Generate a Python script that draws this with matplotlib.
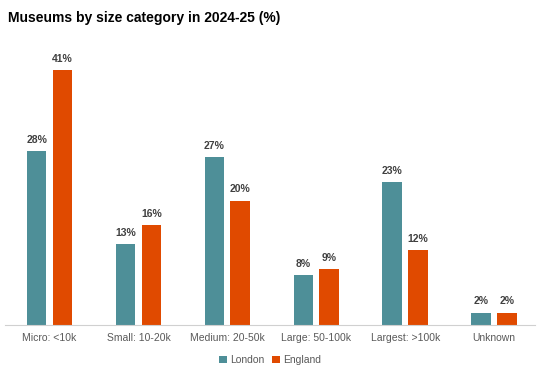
import matplotlib.pyplot as plt
import numpy as np

categories = ['Micro: <10k', 'Small: 10-20k', 'Medium: 20-50k', 'Large: 50-100k', 'Largest: >100k', 'Unknown']
london = [28, 13, 27, 8, 23, 2]
england = [41, 16, 20, 9, 12, 2]

teal = '#4E8F98'
orange = '#E04A00'

plt.rcParams['font.family'] = ['Liberation Sans', 'DejaVu Sans']

fig = plt.figure(figsize=(5.4, 3.79), dpi=100)
ax = fig.add_axes([5 / 540, 54 / 379, 530 / 540, 280 / 379])

x = np.arange(len(categories))
w = 0.22
b1 = ax.bar(x - 0.145, london, w, color=teal, label='London')
b2 = ax.bar(x + 0.145, england, w, color=orange, label='England')

for bars in (b1, b2):
    for b in bars:
        ax.text(b.get_x() + b.get_width() / 2, b.get_height() + 1.0, f'{int(b.get_height())}%',
                ha='center', va='bottom', fontsize=7.5, fontweight='bold', color='#404040')

ax.set_xlim(-0.5, 5.46)
ax.set_ylim(0, 45)
ax.set_yticks([])
ax.set_xticks(x)
ax.set_xticklabels(categories, fontsize=7.5, color='#595959')
ax.tick_params(axis='x', length=0, pad=6)
for s in ['top', 'right', 'left']:
    ax.spines[s].set_visible(False)
ax.spines['bottom'].set_color('#D0D0D0')

fig.text(8 / 540, 1 - 18 / 379, 'Museums by size category in 2024-25 (%)', fontsize=10,
         fontweight='bold', va='center', ha='left', color='black')

fig.legend(handles=[b1, b2], labels=['London', 'England'], loc='center', bbox_to_anchor=(0.5, 1 - 360 / 379),
           ncol=2, frameon=False, fontsize=7.5, handlelength=0.7, handleheight=0.7, handletextpad=0.3,
           columnspacing=0.8, labelcolor='#595959')

fig.savefig('out.png', dpi=100)
